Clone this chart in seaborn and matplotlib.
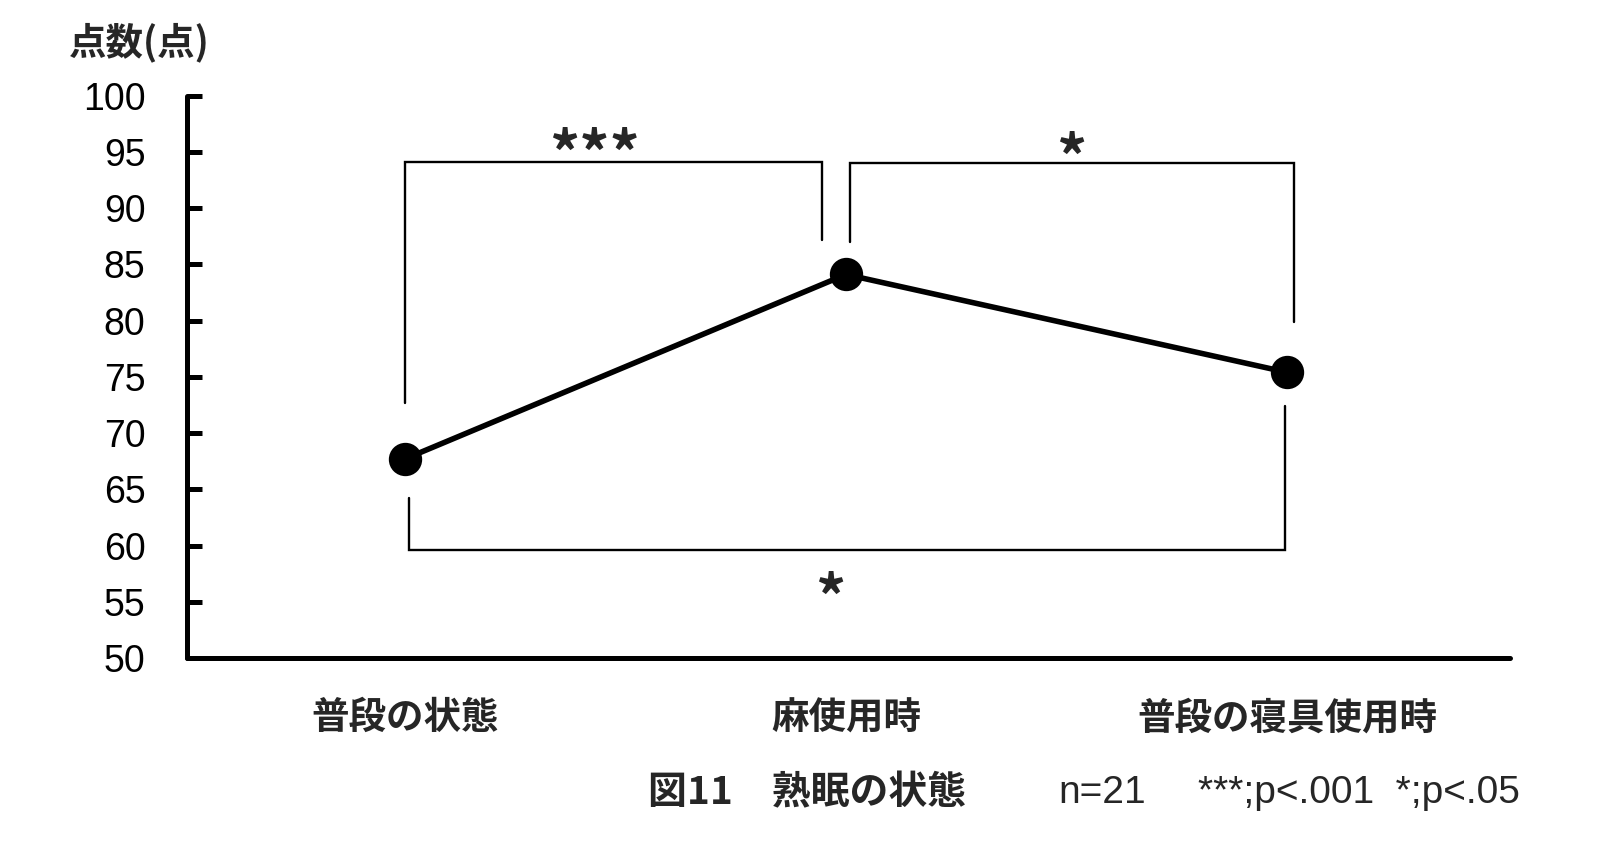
import pandas as pd
import seaborn as sns
import matplotlib
matplotlib.use('Agg')
import matplotlib.pyplot as plt

#Data
conditions=['普段の状態','麻使用時','普段の寝具使用時']
scores=[67.7,84.1,75.4]

yTicks=[50,55,60,65,70,75,80,85,90,95,100]

#Significance brackets: x-left, x-right, y-bar, y-leg-left, y-leg-right, label, label x, label y
bracketXL=[0.0,1.01,0.01]
bracketXR=[0.945,2.015,1.995]
bracketY=[94.1,94.0,59.6]
bracketLegL=[72.7,87.0,64.2]
bracketLegR=[87.2,79.9,72.4]
bracketText=['***','*','*']
bracketTextX=[0.43,1.51,0.965]
bracketTextY=[94.5,94.1,55.0]

sns.set_theme(style='white')
plt.rcParams['font.family']=['Liberation Sans','Noto Sans CJK JP','DejaVu Sans']
cjk=['Noto Sans CJK JP','DejaVu Sans']

df=pd.DataFrame({'condition':conditions,'score':scores})

fig=plt.figure(figsize=(15.99,8.56),dpi=100)
ax=fig.add_axes([0.117,0.2313,0.8274,0.657])

sns.pointplot(data=df,x='condition',y='score',color='black',errorbar=None,
              markersize=21,linewidth=4.0,ax=ax)

#Brackets
for i in range(len(bracketText)):
    ax.plot([bracketXL[i],bracketXL[i],bracketXR[i],bracketXR[i]],
            [bracketLegL[i],bracketY[i],bracketY[i],bracketLegR[i]],
            color='black',lw=1.7,solid_joinstyle='miter')
    ax.text(bracketTextX[i],bracketTextY[i],bracketText[i],
            ha='center',va='center',fontsize=43,fontweight='bold',family=cjk)

ax.set_xlim(-0.494,2.506)
ax.set_ylim(50,100)
ax.set_yticks(yTicks)
ax.set_yticklabels([str(t) for t in yTicks],fontsize=27)
ax.set_xticks(range(len(conditions)))
ax.set_xticklabels(conditions,fontsize=27,fontweight='bold',family=cjk)
ax.tick_params(axis='y',left=True,direction='in',length=11,width=3.6,pad=30,colors='black')
ax.tick_params(axis='x',bottom=False,length=0,pad=29)
ax.set_xlabel('')
ax.set_ylabel('')

for s in ['top','right']:
    ax.spines[s].set_visible(False)
for s in ['left','bottom']:
    ax.spines[s].set_linewidth(3.6)
    ax.spines[s].set_color('black')
    ax.spines[s].set_capstyle('round')

fig.text(0.087,0.951,'点数(点)',fontsize=27,fontweight='bold',ha='center',va='center',family=cjk)

fig.text(0.405,0.074,'図11　熟眠の状態',fontsize=28,fontweight='bold',ha='left',va='center',family=cjk)
fig.text(0.662,0.074,'n=21',fontsize=28,ha='left',va='center')
fig.text(0.749,0.074,'***;p<.001  *;p<.05',fontsize=28,ha='left',va='center')

fig.savefig('out.png',dpi=100,facecolor='white')
